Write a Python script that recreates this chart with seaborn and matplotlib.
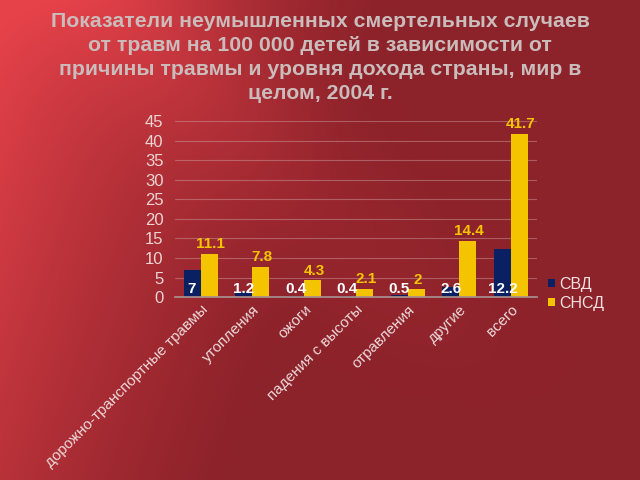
import matplotlib
matplotlib.use("Agg")
import matplotlib.pyplot as plt
import numpy as np
import pandas as pd
import seaborn as sns

# данные
categories = ["дорожно-транспортные травмы", "утопления", "ожоги",
              "падения с высоты", "отравления", "другие", "всего"]
svd = [7, 1.2, 0.4, 0.4, 0.5, 2.6, 12.2]
snsd = [11.1, 7.8, 4.3, 2.1, 2, 14.4, 41.7]
series = ["СВД", "СНСД"]
title = ("Показатели неумышленных смертельных случаев\n"
         "от травм на 100 000 детей в зависимости от\n"
         "причины травмы и уровня дохода страны, мир в\n"
         "целом, 2004 г.")

df = pd.DataFrame({
    "cat": categories * 2,
    "val": svd + snsd,
    "ser": [series[0]] * len(categories) + [series[1]] * len(categories),
})

sns.set_theme(style="white")
plt.rcParams["font.family"] = ["Liberation Sans", "DejaVu Sans"]

fig = plt.figure(figsize=(6.4, 4.8), dpi=100)

# фон: красный градиент
bg = fig.add_axes([0, 0, 1, 1], zorder=-10)
h, w = 480, 640
yy, xx = np.mgrid[0:h, 0:w]
d = (xx + 0.35 * yy) / w
light = np.clip(1.0 - d * 1.6, 0, 1) ** 1.3
streak = np.exp(-((xx - 0.9 * yy - 120) / 110.0) ** 2) * 0.25 * np.clip(1 - yy / 420, 0, 1)
t = np.clip(light + streak, 0, 1)[..., None]
dark = np.array([0x8c, 0x22, 0x2a]) / 255
bright = np.array([0xe6, 0x42, 0x4a]) / 255
img = dark + (bright - dark) * t
bg.imshow(img, aspect="auto", extent=[0, 1, 0, 1])
bg.axis("off")

ax = fig.add_axes([0.273, 0.381, 0.566, 0.367])
ax.set_facecolor("none")
sns.barplot(data=df, x="cat", y="val", hue="ser", ax=ax, width=0.66,
            palette=["#0b1f63", "#f5c400"], saturation=1, edgecolor="none")

ax.set_ylim(0, 45)
ax.set_yticks(range(0, 46, 5))
ax.yaxis.grid(True, color="#d8b4b4", linewidth=0.8, alpha=0.4)
ax.set_axisbelow(True)
for s in ["top", "right", "left"]:
    ax.spines[s].set_visible(False)
ax.spines["bottom"].set_color("#a89090")
ax.set_xlabel("")
ax.set_ylabel("")
ax.tick_params(axis="y", colors="#ecd4d4", labelsize=12, length=0, pad=8)
ax.tick_params(axis="x", colors="#ecd8d8", labelsize=11, length=0, pad=4)
plt.setp(ax.get_xticklabels(), rotation=45, ha="right", va="top",
         rotation_mode="anchor")

# подписи значений
for bar, v in zip(ax.containers[0], svd):
    ax.annotate(f"{v:g}", (bar.get_x() + bar.get_width() / 2, 0),
                xytext=(0, 0.5), textcoords="offset points", ha="center",
                va="bottom", color="white", fontsize=11, fontweight="bold")
for bar, v in zip(ax.containers[1], snsd):
    ax.annotate(f"{v:g}", (bar.get_x() + bar.get_width() / 2, bar.get_height()),
                xytext=(1, 2), textcoords="offset points", ha="center",
                va="bottom", color="#f5c400", fontsize=11, fontweight="bold")

ax.legend(loc="center left", bbox_to_anchor=(0.99, 0.02), frameon=False,
          labelcolor="#f0e0e0", fontsize=11.5, handlelength=0.45,
          handleheight=0.45, handletextpad=0.3, labelspacing=0.25)

fig.text(0.5, 0.974, title, ha="center", va="top", color="#cbbcbc",
         fontsize=15.3, fontweight="bold", linespacing=1.32)

fig.savefig("out.png", dpi=100)
